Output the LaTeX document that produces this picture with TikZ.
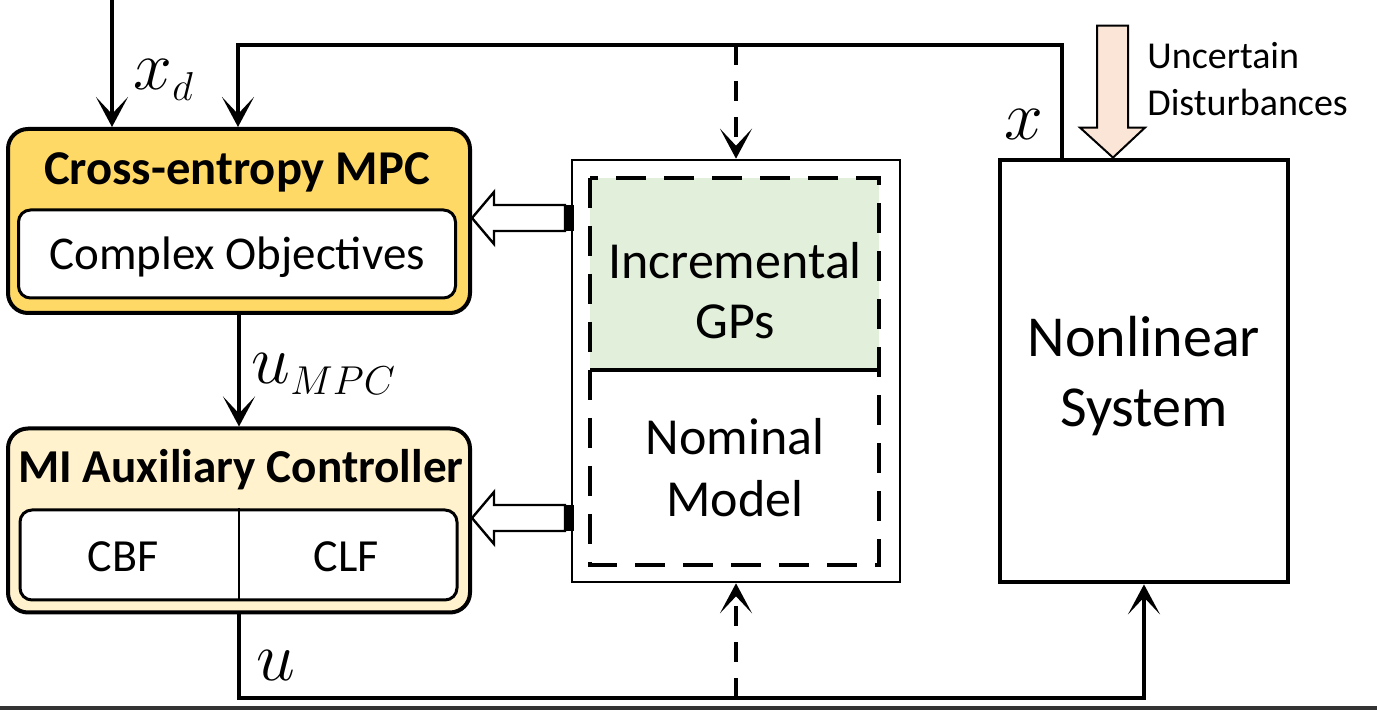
\documentclass[tikz,border=0pt]{standalone}
\usepackage{graphicx}
\usepackage{fontspec}
\setmainfont{Carlito}
\usetikzlibrary{arrows.meta,calc}
\DeclareMathSizes{24.88}{24.88}{14.4}{12}
\newcommand{\biglab}[1]{\scalebox{1.4}{$#1$}}
\definecolor{mpcgold}{HTML}{FFD966}
\definecolor{auxcream}{HTML}{FFF2CC}
\definecolor{gpgreen}{HTML}{E2EFDA}
\definecolor{distpeach}{HTML}{FBE5D6}
\begin{document}
\begin{tikzpicture}[x=0.5pt,y=-0.5pt,
    >={Stealth[length=15pt,width=16pt,inset=8.5pt]},
    ctrlbox/.style={draw,line width=2pt,rounded corners=10pt,minimum width=231pt,minimum height=92pt},
    subbox/.style={draw,fill=white,line width=1.5pt,rounded corners=6pt,minimum width=218.5pt,minimum height=44pt},
    sig/.style={line width=1.8pt},
    sigdash/.style={line width=1.7pt,dash pattern=on 10pt off 8pt},
    hollow/.style={draw,line width=1.2pt,fill=white},
    mathlab/.style={font=\fontsize{24.88}{30}\selectfont}]
    \useasboundingbox (0,0) rectangle (1377,710);

    % controllers
    \node[ctrlbox,fill=mpcgold] (mpc) at (239,221) {};
    \node[subbox] (obj) at (237,254) {};
    \node[anchor=base,font=\bfseries\fontsize{24.3}{28}\selectfont] (mpctitle) at (237,185) {Cross-entropy MPC};
    \node[anchor=base,font=\fontsize{23.5}{28}\selectfont] (objtxt) at (237,270) {Complex Objectives};

    \node[ctrlbox,fill=auxcream] (aux) at (239,520.5) {};
    \node[subbox,minimum height=45pt] (cert) at (238.5,555) {};
    \draw[line width=1pt] (cert.north) -- (cert.south);
    \node[anchor=base,font=\bfseries\fontsize{23.6}{27}\selectfont] (auxtitle) at (241,483) {MI Auxiliary Controller};
    \node[anchor=base,font=\fontsize{23}{28}\selectfont] (cbf) at (123,572) {CBF};
    \node[anchor=base,font=\fontsize{23}{28}\selectfont] (clf) at (346,572) {CLF};

    % learned model
    \node[draw,line width=1.3pt,minimum width=164pt,minimum height=211pt] (learn) at (736,371) {};
    \fill[gpgreen] (590,178) rectangle (879,370);
    \draw[line width=1.6pt] (590,370) -- (879,370);
    \draw[line width=2.2pt,dash pattern=on 15pt off 9pt] (590,178) rectangle (879,565);
    \node[align=center,font=\fontsize{26}{30}\selectfont] (gps) at (735,291) {Incremental\\GPs};
    \node[align=center,font=\fontsize{26}{31}\selectfont] (nom) at (735,468) {Nominal\\Model};

    % plant
    \node[draw,line width=2.4pt,minimum width=144pt,minimum height=211pt] (plant) at (1144,371) {};
    \node[align=center,font=\fontsize{29}{35}\selectfont] (plantlab) at (1144,376) {Nonlinear\\System};

    \coordinate (dtip) at (plant.north -| 1113,0);
    \draw[line width=1pt,fill=distpeach] (dtip) -- ++(32,-30) -- ++(-17,0) -- ++(0,-102)
        -- ++(-31,0) -- ++(0,102) -- ++(-17,0) -- cycle;
    \node[anchor=west,align=left,inner sep=0pt,font=\fontsize{19}{23.5}\selectfont] (distlab) at (1147,79) {Uncertain\\Disturbances};

    % model to controllers
    \coordinate (gptip) at (mpc.east |- 0,218);
    \draw[hollow] (gptip) -- ++(22,-26) -- ++(0,13) -- ++(71,0) -- ++(0,26) -- ++(-71,0) -- ++(0,13) -- cycle;
    \fill ($(gptip)+(93,-13)$) rectangle ($(gptip)+(102,13)$);
    \coordinate (nomtip) at (aux.east |- 0,518);
    \draw[hollow] (nomtip) -- ++(22,-26) -- ++(0,13) -- ++(71,0) -- ++(0,26) -- ++(-71,0) -- ++(0,13) -- cycle;
    \fill ($(nomtip)+(93,-13)$) rectangle ($(nomtip)+(102,13)$);

    % signals
    \coordinate (xdsrc) at (112,0);
    \draw[sig,->] (xdsrc) -- (mpc.north -| xdsrc);
    \coordinate (xtap) at (plant.north -| 1062,0);
    \coordinate (fbk) at (238,45);
    \draw[sig,->] (xtap) |- (fbk) -- (mpc.north -| fbk);
    \draw[sigdash,->] (learn.north |- fbk) -- (learn.north);
    \draw[sig,->] (mpc.south) -- (aux.north);
    \coordinate (ubot) at (239,698);
    \draw[sig,->] (aux.south) -- (ubot) -| (plant.south);
    \draw[sigdash,->] (learn.south |- ubot) -- (learn.south);

    \node[mathlab] (xdlab) at (164,80) {\biglab{x_d}};
    \node[mathlab] (xlab) at (1024,125) {\biglab{x}};
    \node[mathlab] (umpclab) at (324,374) {\biglab{u_{MPC}}};
    \node[mathlab] (ulab) at (276,666) {\biglab{u}};

    \fill[black!80] (0,706) rectangle (1377,710);
\end{tikzpicture}
\end{document}
